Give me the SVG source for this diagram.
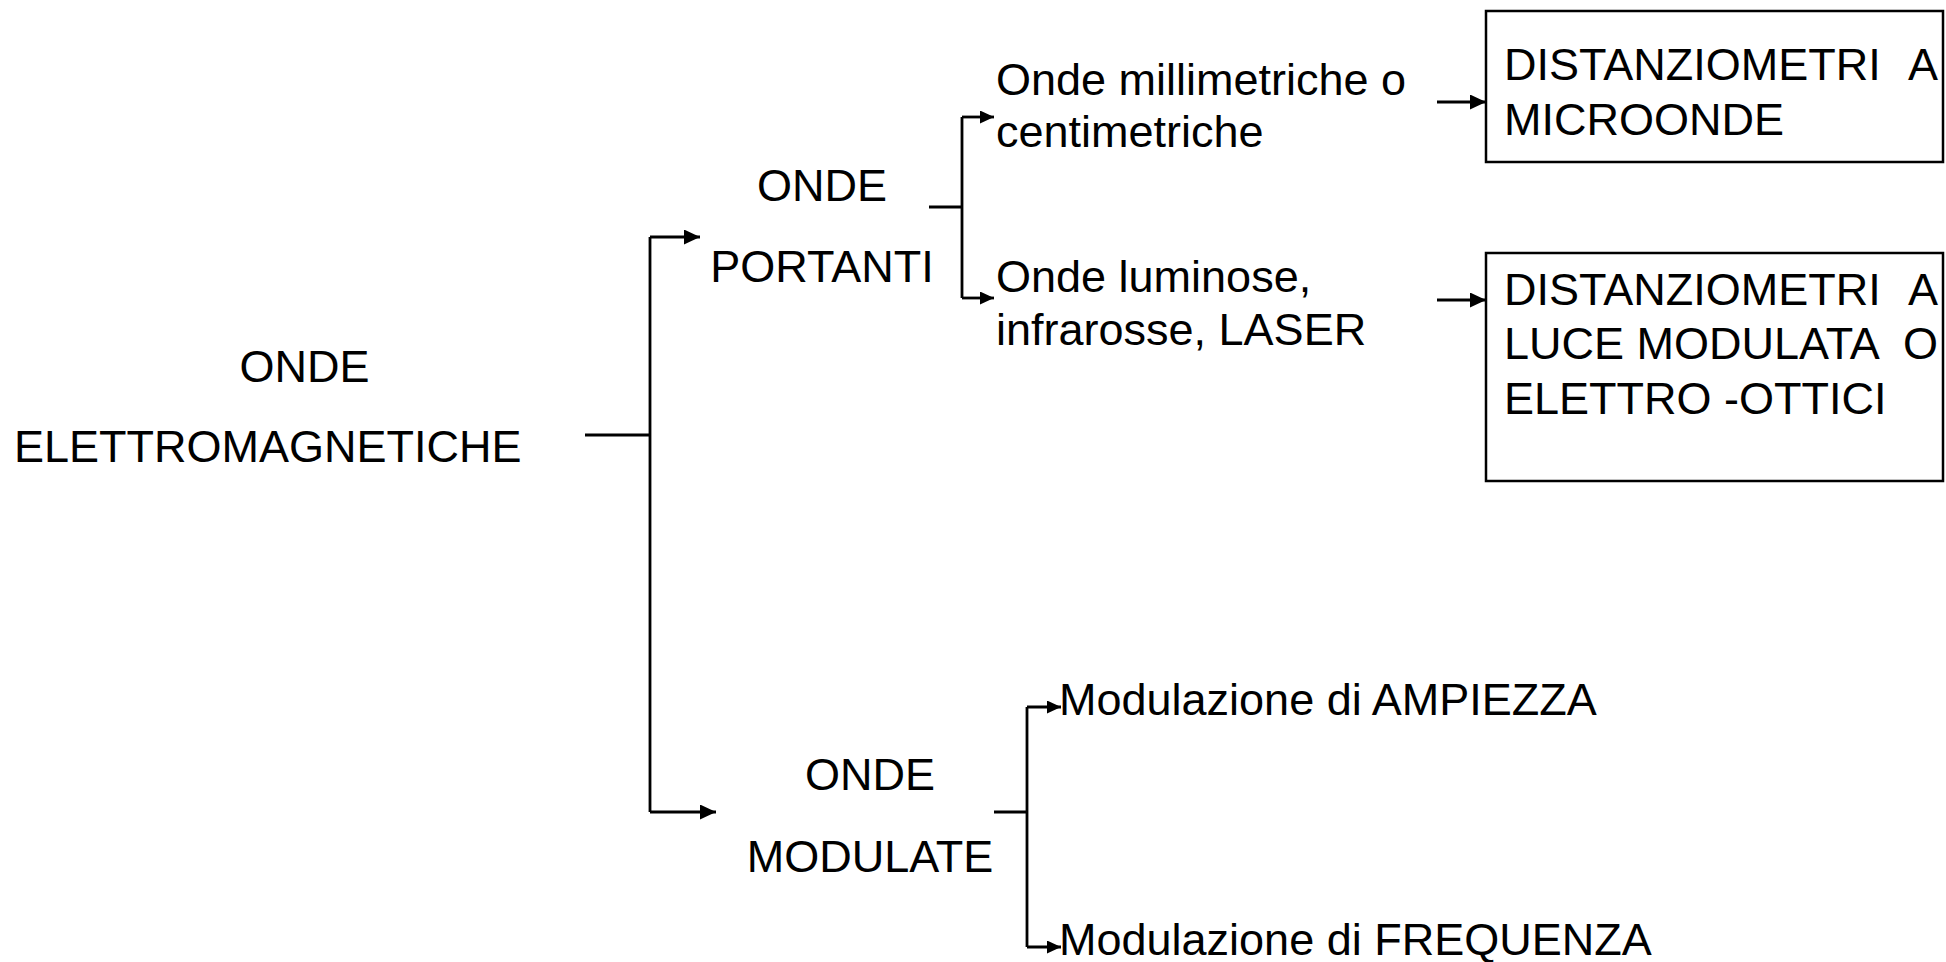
<svg xmlns="http://www.w3.org/2000/svg" width="1946" height="962" viewBox="0 0 1946 962">
<defs>
<style>
text{font-family:"Liberation Sans",Arial,sans-serif;font-size:45px;fill:#000;white-space:pre}
.c{text-anchor:middle}
.e{text-anchor:end}
.ln{fill:none;stroke:#000;stroke-width:2.8}
.box{fill:#fff;stroke:#000;stroke-width:2.5}
</style>
<marker id="ah" markerUnits="userSpaceOnUse" markerWidth="16" markerHeight="15" refX="16" refY="7.5" orient="auto">
<path d="M0,0 L16,7.5 L0,15 Z" fill="#000"/>
</marker>
<marker id="as" markerUnits="userSpaceOnUse" markerWidth="14" markerHeight="13" refX="14" refY="6.5" orient="auto">
<path d="M0,0 L14,6.5 L0,13 Z" fill="#000"/>
</marker>
</defs>
<rect width="1946" height="962" fill="#fff"/>
<g id="connectors">
<path class="ln" d="M585,435 H650"/>
<path class="ln" d="M650,237 V812"/>
<path class="ln" d="M650,237 H700" marker-end="url(#ah)"/>
<path class="ln" d="M650,812 H716" marker-end="url(#ah)"/>
<path class="ln" d="M929,207 H962"/>
<path class="ln" d="M962,117 V298"/>
<path class="ln" d="M962,117 H994" marker-end="url(#as)"/>
<path class="ln" d="M962,298 H994" marker-end="url(#as)"/>
<path class="ln" d="M1437,102 H1486" marker-end="url(#ah)"/>
<path class="ln" d="M1437,300 H1486" marker-end="url(#ah)"/>
<path class="ln" d="M994,812 H1027"/>
<path class="ln" d="M1027,707 V947"/>
<path class="ln" d="M1027,707 H1061" marker-end="url(#as)"/>
<path class="ln" d="M1027,947 H1061" marker-end="url(#as)"/>
</g>
<g id="onde-elettromagnetiche">
<text class="c" x="304.5" y="382">ONDE</text>
<text x="14" y="462">ELETTROMAGNETICHE</text>
</g>
<g id="onde-portanti">
<text class="c" x="822" y="201">ONDE</text>
<text class="c" x="822" y="282">PORTANTI</text>
</g>
<g id="onde-millimetriche">
<text x="996" y="95">Onde millimetriche o</text>
<text x="996" y="147">centimetriche</text>
</g>
<g id="onde-luminose">
<text x="996" y="292">Onde luminose,</text>
<text x="996" y="345">infrarosse, LASER</text>
</g>
<g id="distanziometri-microonde">
<rect class="box" x="1486" y="11" width="457" height="151"/>
<text y="80"><tspan x="1504">DISTANZIOMETRI</tspan><tspan class="e" x="1938"> A</tspan></text>
<text x="1504" y="135">MICROONDE</text>
</g>
<g id="distanziometri-luce">
<rect class="box" x="1486" y="253" width="457" height="228"/>
<text y="305"><tspan x="1504">DISTANZIOMETRI</tspan><tspan class="e" x="1938"> A</tspan></text>
<text y="359"><tspan x="1504">LUCE MODULATA</tspan><tspan class="e" x="1938"> O</tspan></text>
<text x="1504" y="414">ELETTRO -OTTICI</text>
</g>
<g id="onde-modulate">
<text class="c" x="870" y="790">ONDE</text>
<text class="c" x="870" y="872">MODULATE</text>
</g>
<g id="modulazione-ampiezza">
<text x="1059" y="715">Modulazione di AMPIEZZA</text>
</g>
<g id="modulazione-frequenza">
<text x="1059" y="955">Modulazione di FREQUENZA</text>
</g>
</svg>
